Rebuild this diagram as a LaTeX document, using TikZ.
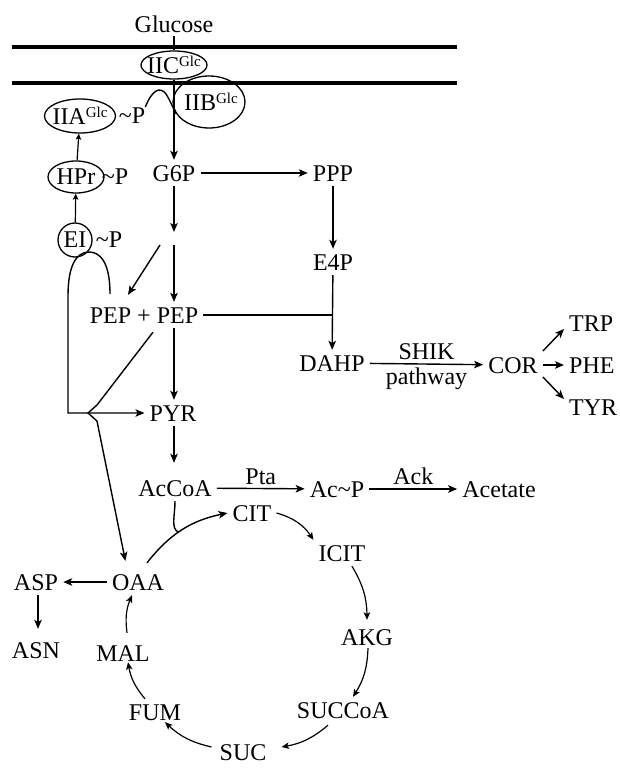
\documentclass[tikz,border=0pt]{standalone}
\usepackage{fontspec}
\setmainfont{Liberation Serif}
\usetikzlibrary{arrows.meta,shapes.geometric,calc}
\newcommand\glc{\raisebox{7pt}{\fontsize{15}{15}\selectfont Glc}}
\newcommand\phos{\textasciitilde P}

\begin{document}
\begin{tikzpicture}[x=1pt,y=-1pt,
  every node/.style={font=\fontsize{24}{28}\selectfont},
  met/.style={inner sep=5pt,text height=16pt,text depth=0pt},
  enz/.style={draw,ellipse,line width=1.3pt,inner sep=0pt},
  fl/.style={line width=1.4pt,-{Stealth[length=9pt,width=7.5pt,inset=2.2pt]}},
  cyc/.style={line width=1.2pt,-{Stealth[length=7.5pt,width=6.5pt,inset=1.8pt]}},
  pts/.style={line width=1.2pt,-{Stealth[length=6pt,width=5.5pt,inset=1.2pt]}},
  trait/.style={line width=1.4pt}]

\useasboundingbox (0,0) rectangle (619,768);

%membrane
\draw[line width=4pt] (12,47) -- (457,47);
\draw[line width=4pt] (12,83) -- (457,83);

%systeme PTS
\node (Glc) at (174,24) {Glucose};
\node[enz,minimum width=66pt,minimum height=28pt] (IIC) at (174,65) {\makebox[0pt]{IIC\glc}};
\node[enz,minimum width=72pt,minimum height=52pt] (IIB) at (209,102) {\makebox[0pt]{\hspace{4pt}IIB\glc}};
\node[enz,minimum width=71pt,minimum height=34pt] (IIA) at (80,116) {\makebox[0pt]{IIA\glc}};
\node[enz,minimum width=56pt,minimum height=32pt] (HPr) at (76,177) {\makebox[0pt]{HPr}};
\node[enz,circle,minimum size=34pt] (EI) at (75,240) {\makebox[0pt]{EI}};
\node[inner sep=1pt] (IIAP) at (132,116) {\phos};
\node[inner sep=1pt] (HPrP) at (115,177) {\phos};
\node[inner sep=1pt] (EIP) at (109,240) {\phos};

%metabolites
\node[met] (G6P) at (174,173) {G6P};
\node[met] (PPP) at (333,173) {PPP};
\node[met] (E4P) at (333,262) {E4P};
\coordinate (inter) at (174,238);
\node[met] (PEP) at (144,315) {PEP + PEP};
\node[met] (DAHP) at (332,363) {DAHP};
\node[met] (COR) at (513,365) {COR};
\node[met,anchor=west] (TRP) at (564,323) {TRP};
\node[met,anchor=west] (PHE) at (564,365) {PHE};
\node[met,anchor=west] (TYR) at (564,407) {TYR};
\node[met] (PYR) at (173,413) {PYR};
\node[met] (AcCoA) at (175,488) {AcCoA};
\node[met] (AcP) at (337,489) {Ac\phos};
\node[met] (Acet) at (499,489) {Acetate};

%cycle de Krebs
\node[met] (CIT) at (252,513) {CIT};
\node[met] (ICIT) at (342,553) {ICIT};
\node[met] (AKG) at (367,637) {AKG};
\node[met] (SUCCoA) at (343,710) {SUCCoA};
\node[met] (SUC) at (243,752) {SUC};
\node[met] (FUM) at (155,712) {FUM};
\node[met] (MAL) at (123,653) {MAL};
\node[met] (OAA) at (138,582) {OAA};
\node[met] (ASP) at (36,582) {ASP};
\node[met] (ASN) at (36,650) {ASN};

%transport du glucose
\draw[trait] (Glc) -- (IIC);
\draw[fl] (IIC) -- (G6P);
\draw[trait] ($(IIAP.east)+(-1,-9)$) .. controls (152,90) and (160,86) .. (166,94) .. controls (170,100) and (172,106) .. (IIB.200);
\draw[pts] (HPr) -- (IIA);
\draw[pts] (EI) -- (HPr);

%glycolyse
\draw[fl] (G6P) -- (PPP);
\draw[fl] (PPP) -- (E4P);
\draw[fl] (G6P) -- ($(inter)+(0,-6)$);
\draw[fl] ($(inter)+(0,7)$) -- (PEP.north -| inter);
\draw[fl] ($(inter)+(-14,7)$) -- ($(PEP.north)+(-16,-7)$);
\draw[trait] (PEP.east) -- (PEP.east -| E4P);
\draw[fl] (E4P) -- (DAHP);
\draw[fl] (DAHP) -- (COR) node[midway,above]{SHIK} node[midway,below]{pathway};
\draw[fl] ($(COR.east)+(0,-14)$) -- ($(TRP.west)+(0,6)$);
\draw[fl] (COR) -- (PHE);
\draw[fl] ($(COR.east)+(0,12)$) -- ($(TYR.west)+(0,-8)$);
\draw[fl] (PEP.south -| inter) -- (PYR.north -| inter);
\draw[fl,shorten >=12pt] (PYR.south -| inter) -- (AcCoA.north -| inter);
\draw[fl] (AcCoA) -- (AcP) node[midway,above]{Pta};
\draw[fl] (AcP) -- (Acet) node[midway,above]{Ack};

%boucle EI et PEP vers OAA
\coordinate (boucle) at (110,294);
\draw[fl] (boucle) .. controls (110,262) and (100,252) .. (89,252) .. controls (76,252) and (68,266) .. (68,296) -- (68,413) -- (PYR.west);
\draw[fl,shorten >=8pt] ($(PEP.south)+(9,4)$) -- (97,405) -- (88,413) -- (97,421) -- ($(OAA.north)+(-11,0)$);

%cycle
\draw[fl] ($(OAA.north)+(9,-6)$) to[bend left=20] coordinate[pos=0.45] (jonction) (CIT.west);
\draw[trait] (AcCoA.south) .. controls ($(AcCoA.south)+(0,15)$) and ($(jonction)+(-8,-4)$) .. (jonction);
\draw[cyc] (CIT.east) to[bend left=20] (ICIT.north west);
\draw[cyc] ($(ICIT.south)+(10,0)$) to[bend left=15] ($(AKG.north)+(0,-4)$);
\draw[cyc] ($(AKG.south)+(1,-2)$) to[bend left=15] ($(SUCCoA.north)+(10,0)$);
\draw[cyc] ($(SUCCoA.south)+(-15,2)$) to[bend left=15] ($(SUC.east)+(10,-5)$);
\draw[cyc] ($(SUC.west)+(-3,-5)$) to[bend left=15] ($(FUM.south)+(10,-3)$);
\draw[cyc] ($(FUM.north)+(-10,0)$) to[bend left=15] ($(MAL.south)+(5,-4)$);
\draw[cyc] ($(MAL.north)+(4,-7)$) to[bend left=15] ($(OAA.south)+(-6,0)$);
\draw[fl] (OAA) -- (ASP);
\draw[fl,shorten >=8pt] ($(ASP.south)+(2,0)$) -- ($(ASN.north)+(2,0)$);

\end{tikzpicture}
\end{document}
